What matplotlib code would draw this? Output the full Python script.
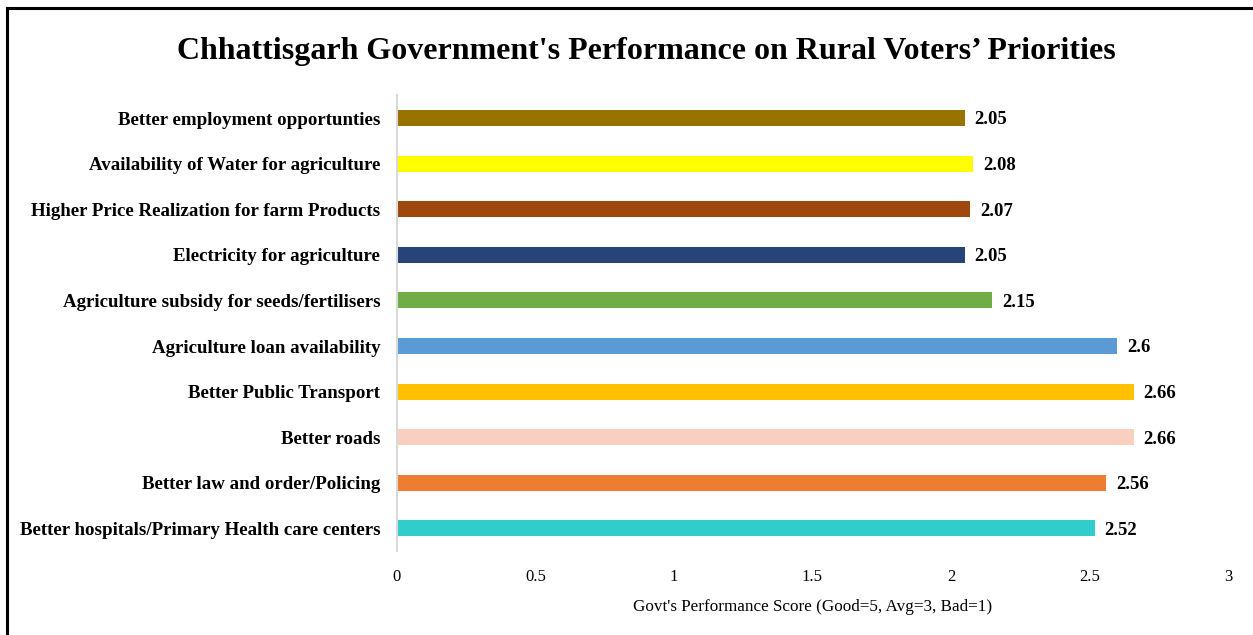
import matplotlib
matplotlib.use("Agg")
import matplotlib.pyplot as plt
from matplotlib.lines import Line2D

categories = [
    "Better hospitals/Primary Health care centers",
    "Better law and order/Policing",
    "Better roads",
    "Better Public Transport",
    "Agriculture loan availability",
    "Agriculture subsidy for seeds/fertilisers",
    "Electricity for agriculture",
    "Higher Price Realization for farm Products",
    "Availability of Water for agriculture",
    "Better employment opportunties",
]
values = [2.52, 2.56, 2.66, 2.66, 2.6, 2.15, 2.05, 2.07, 2.08, 2.05]
colors = ["#33CCCC", "#ED7D31", "#F9D0C0", "#FFC000", "#5B9BD5",
          "#70AD47", "#264478", "#9E480E", "#FFFF00", "#997300"]
xticks = [0, 0.5, 1, 1.5, 2, 2.5, 3]
xtick_labels = ["0", "0.5", "1", "1.5", "2", "2.5", "3"]

plt.rcParams['font.family'] = ['Liberation Serif', 'DejaVu Serif']

fig = plt.figure(figsize=(12.53, 6.35), dpi=100)
ax = fig.add_axes([0.3168, 0.132, 0.9800 - 0.3168, 0.850 - 0.132])

y = list(range(len(categories)))
ax.barh(y, values, height=0.35, color=colors)
for yi, v in zip(y, values):
    ax.text(v + 0.035, yi - 0.04, f"{v:g}", va="center", ha="left",
            fontsize=13.5, fontweight="bold")

ax.set_xlim(0, 3)
ax.set_ylim(-0.5, len(categories) - 0.5)
ax.set_yticks(y)
ax.set_yticklabels(categories, fontsize=13.6, fontweight="bold")
ax.set_xticks(xticks)
ax.set_xticklabels(xtick_labels, fontsize=12)
ax.tick_params(axis="both", length=0)
ax.tick_params(axis="x", pad=13)
ax.tick_params(axis="y", pad=12)
for s in ["top", "right", "bottom"]:
    ax.spines[s].set_visible(False)
ax.spines["left"].set_color("#D9D9D9")
ax.spines["left"].set_linewidth(1.5)
ax.set_xlabel("Govt's Performance Score (Good=5, Avg=3, Bad=1)", fontsize=12.3, labelpad=10)

fig.text(0.5156, 1 - 52 / 635, "Chhattisgarh Government's Performance on Rural Voters\u2019 Priorities",
         ha="center", va="center", fontsize=23, fontweight="bold")

# frame
fig.add_artist(Line2D([7 / 1253, 1.0], [1 - 8 / 635, 1 - 8 / 635], color="black", lw=2.2,
                      transform=fig.transFigure))
fig.add_artist(Line2D([7 / 1253, 7 / 1253], [0, 1 - 8 / 635], color="black", lw=2.2,
                      transform=fig.transFigure))

fig.savefig("out.png", dpi=100)
